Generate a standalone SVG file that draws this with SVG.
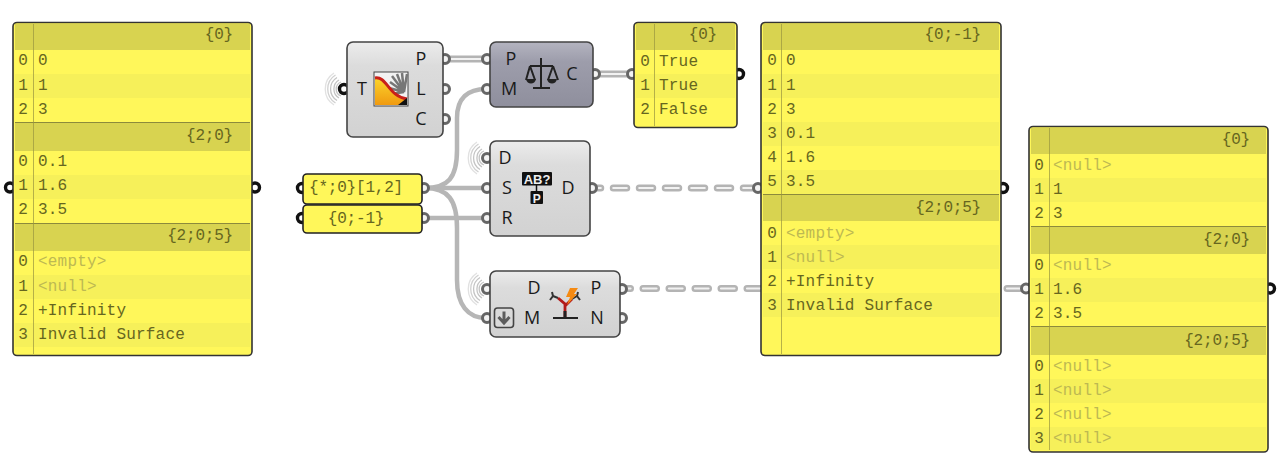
<svg xmlns="http://www.w3.org/2000/svg" width="1280" height="470" viewBox="0 0 1280 470">
<style>
text{font-family:"Liberation Mono","DejaVu Sans Mono",monospace;font-size:16px;fill:#66661f;letter-spacing:.2px}
.i{text-anchor:middle;letter-spacing:0}
.h{text-anchor:end;letter-spacing:-.2px}
.n{fill:#bdb952}
.lb{font-family:"Open Sans","Liberation Sans",sans-serif;font-size:18px;fill:#1a1a1a;text-anchor:middle;letter-spacing:0}
.pn{fill:#fff75a;stroke:#333;stroke-width:1.6}
.hd{fill:#d8d350}
.st{fill:#f6f05a}
.col{stroke:#9a9640;stroke-width:1;opacity:.7}
.sep{stroke:#8c8a3c;stroke-width:1.2}
.nd{stroke:#444;stroke-width:1.6}
.pi{fill:#f4f4f4;stroke:#666;stroke-width:3}
.pb{fill:#fff;stroke:#111;stroke-width:3.400}
.w{fill:none;stroke:#b6b6b6;stroke-width:4.500}
.wd{fill:none;stroke:#b4b4b4;stroke-width:7}
.wi{fill:none;stroke:#f2f2f2;stroke-width:2.200}
.dash{stroke-dasharray:13.500 12.500;stroke-linecap:round}
.r{fill:none;stroke:#c4c4c4;stroke-width:1.300}
</style>
<defs>
<linearGradient id="g" x1="0" y1="0" x2="0" y2="1"><stop offset="0" stop-color="#ececec"/><stop offset=".25" stop-color="#dcdcdc"/><stop offset="1" stop-color="#d2d2d2"/></linearGradient>
<linearGradient id="gd" x1="0" y1="0" x2="0" y2="1"><stop offset="0" stop-color="#b4b4c0"/><stop offset=".3" stop-color="#9d9dab"/><stop offset="1" stop-color="#8f8f9d"/></linearGradient>
<linearGradient id="ic" x1="0" y1="0" x2="0" y2="1"><stop offset="0" stop-color="#fbd52c"/><stop offset="1" stop-color="#f09a10"/></linearGradient>
<g id="rings"><path class="r" d="M-3 -7A7.500 7.500 0 0 0 -3 7"/><path class="r" d="M-5 -9A10.500 10.500 0 0 0 -5 9"/><path class="r" d="M-7 -11.500A13.500 13.500 0 0 0 -7 11.500"/><path class="r" d="M-8.500 -14A16.500 16.500 0 0 0 -8.500 14" opacity=".8"/><path class="r" d="M-10 -16A19 19 0 0 0 -10 16" opacity=".5"/></g>
</defs>

<g id="connectors">
<path class="wd" d="M446 59H486"/><path class="wi" d="M446 59H486"/>
<path class="wd" d="M596 74H630"/><path class="wi" d="M596 74H630"/>
<path class="w" d="M425 188C448 188 457 178 457 150V118C457 98 468 89 486 89"/>
<path class="w" d="M425 188H486"/>
<path class="w" d="M425 188C448 188 457 200 457 228V280C457 305 468 318 486 318"/>
<path class="w" d="M425 218H486"/>
<path class="wd dash" d="M587.250 188H758"/><path class="wi dash" d="M587.250 188H758"/>
<path class="wd dash" d="M617 288.500H1025"/><path class="wi dash" d="M617 288.500H1025"/>
</g>

<g id="panel-1">
<circle class="pb" cx="10" cy="187.500" r="4.500"/><circle class="pb" cx="255" cy="187.500" r="4.500"/>
<rect class="pn" x="13" y="22.500" width="239" height="333" rx="4"/>
<path class="hd" d="M15 24H250V50H15ZM15 123H250V151H15ZM15 224H250V251H15Z"/>
<path class="st" d="M15 74H250V98H15ZM15 175H250V199H15ZM15 275H250V299H15ZM15 323H250V347H15Z"/>
<path class="sep" d="M15 122.500H250M15 223.500H250"/><path class="col" d="M33.500 24V354"/>
<text class="h" x="233" y="39">{0}</text><text class="i" x="23" y="65">0</text><text x="38" y="65">0</text><text class="i" x="23" y="90">1</text><text x="38" y="90">1</text><text class="i" x="23" y="114">2</text><text x="38" y="114">3</text>
<text class="h" x="233" y="140">{2;0}</text><text class="i" x="23" y="166">0</text><text x="38" y="166">0.1</text><text class="i" x="23" y="190">1</text><text x="38" y="190">1.6</text><text class="i" x="23" y="214">2</text><text x="38" y="214">3.5</text>
<text class="h" x="233" y="240">{2;0;5}</text><text class="i" x="23" y="266">0</text><text class="n" x="38" y="266">&lt;empty&gt;</text><text class="i" x="23" y="291">1</text><text class="n" x="38" y="291">&lt;null&gt;</text><text class="i" x="23" y="315">2</text><text x="38" y="315">+Infinity</text><text class="i" x="23" y="339">3</text><text x="38" y="339">Invalid Surface</text>
</g>

<g id="node-tree-stats">
<use href="#rings" x="344" y="89"/>
<circle class="pb" cx="344" cy="89" r="4.500"/><circle class="pi" cx="445" cy="59" r="4.500"/><circle class="pi" cx="445" cy="89" r="4.500"/><circle class="pi" cx="445" cy="119" r="4.500"/>
<rect class="nd" x="347" y="42" width="96" height="95" rx="6" fill="url(#g)"/>
<rect x="374" y="72" width="34" height="34" fill="#f2f2f2" stroke="#444"/>
<path d="M404 92L392 76M404 92L397 74M404 92L402 73M404 92L407 74M404 92L390 82M404 92L389 88M404 92L391 94" stroke="#777" stroke-width="2.500" fill="none"/>
<path d="M375 78C387 76 388 96 407 99V105H375Z" fill="url(#ic)"/>
<path d="M375 78C387 76 388 96 407 99" fill="none" stroke="#c8201a" stroke-width="3"/>
<path d="M398 105L407 98V105Z" fill="#111"/>
<text class="lb" x="362" y="95">T</text><text class="lb" x="421" y="65">P</text><text class="lb" x="421" y="95">L</text><text class="lb" x="421" y="125">C</text>
</g>

<g id="node-balance">
<circle class="pi" cx="487" cy="59" r="4.500"/><circle class="pi" cx="487" cy="89" r="4.500"/><circle class="pi" cx="595" cy="74" r="4.500"/>
<rect class="nd" x="490" y="42" width="103" height="65" rx="6" fill="url(#gd)"/>
<path d="M541 58V87M533 88H550M530 66H553M530 66L526 80M530 66L535 80M553 66L548 80M553 66L558 80" fill="none" stroke="#222" stroke-width="2"/>
<path d="M526 79H536C535 85 527 85 526 79ZM547 79H557C556 85 548 85 547 79Z" fill="#222"/>
<text class="lb" x="511" y="65">P</text><text class="lb" x="509" y="95">M</text><text class="lb" x="572" y="80">C</text>
</g>

<g id="panel-4">
<circle class="pi" cx="632" cy="74" r="4.500"/><circle class="pb" cx="739" cy="74" r="4.500"/>
<rect class="pn" x="634" y="22.500" width="103" height="105" rx="4"/>
<path class="hd" d="M636 24H735V50H636Z"/><path class="st" d="M636 74H735V98H636Z"/><path class="col" d="M654.500 24V126"/>
<text class="h" x="717" y="39">{0}</text><text class="i" x="645" y="66">0</text><text x="659" y="66">True</text><text class="i" x="645" y="90">1</text><text x="659" y="90">True</text><text class="i" x="645" y="114">2</text><text x="659" y="114">False</text>
</g>

<g id="param-path">
<circle class="pb" cx="302" cy="188" r="4.500"/><circle class="pi" cx="424" cy="188" r="4.500"/>
<rect x="303" y="174" width="119" height="30" rx="4" fill="#fff75a" stroke="#222" stroke-width="1.600"/>
<text x="309" y="192" style="letter-spacing:-.2px">{*;0}[1,2]</text>
</g>
<g id="param-relative">
<circle class="pb" cx="302" cy="218" r="4.500"/><circle class="pi" cx="424" cy="218" r="4.500"/>
<rect x="303" y="205" width="119" height="28" rx="4" fill="#fff75a" stroke="#222" stroke-width="1.600"/>
<text class="i" x="356" y="223" style="letter-spacing:-.2px">{0;-1}</text>
</g>

<g id="node-shift">
<use href="#rings" x="487" y="158"/>
<circle class="pi" cx="487" cy="158" r="4.500"/><circle class="pi" cx="487" cy="188" r="4.500"/><circle class="pi" cx="487" cy="218" r="4.500"/><circle class="pi" cx="592" cy="188" r="4.500"/>
<rect class="nd" x="490" y="141" width="100" height="95" rx="6" fill="url(#g)"/>
<rect x="522" y="172" width="30" height="13.500" rx="1" fill="#111"/><rect x="530.500" y="191" width="12.500" height="13" rx="1" fill="#111"/><path d="M536.500 185V191" stroke="#111" stroke-width="1.500"/>
<text x="537" y="183.500" style="font:bold 13px 'Liberation Sans',sans-serif;fill:#eee;text-anchor:middle;letter-spacing:0">AB?</text>
<text x="536.800" y="202.500" style="font:bold 12px 'Liberation Sans',sans-serif;fill:#eee;text-anchor:middle;letter-spacing:0">P</text>
<text class="lb" x="505" y="164">D</text><text class="lb" x="507" y="194">S</text><text class="lb" x="507" y="224">R</text><text class="lb" x="568" y="194">D</text>
</g>

<g id="node-prune">
<use href="#rings" x="487" y="289"/>
<circle class="pi" cx="487" cy="289" r="4.500"/><circle class="pi" cx="487" cy="318" r="4.500"/><circle class="pi" cx="622" cy="289" r="4.500"/><circle class="pi" cx="622" cy="318" r="4.500"/>
<rect class="nd" x="490" y="271" width="130" height="66" rx="6" fill="url(#g)"/>
<rect x="494.500" y="308" width="19" height="19.500" rx="3" fill="#dadada" stroke="#444" stroke-width="1.600"/>
<path d="M504 311.500V323M498.500 317L504 323L509.500 317" fill="none" stroke="#5c5c5c" stroke-width="3"/>
<path d="M565 317V304L558 298M565 306L572 299" fill="none" stroke="#b21a1a" stroke-width="2.800"/>
<path d="M558 298L553 296M553 296L552 292M553 296L550 300M572 299L577 296M577 296L578 292M577 296L580 300" fill="none" stroke="#333" stroke-width="2"/>
<path d="M553 318H578" stroke="#222" stroke-width="2"/><path d="M565 311V318" stroke="#222" stroke-width="3"/>
<path d="M570 288L578 288L574 294L577 294L567 305L570 297L566 297Z" fill="#f58a12"/>
<text class="lb" x="534" y="294">D</text><text class="lb" x="532" y="324">M</text><text class="lb" x="596" y="294">P</text><text class="lb" x="597" y="324">N</text>
</g>

<g id="panel-2">
<circle class="pi" cx="758" cy="188" r="4.500"/><circle class="pb" cx="1003" cy="188" r="4.500"/>
<rect class="pn" x="761" y="22.500" width="240" height="333" rx="4"/>
<path class="hd" d="M763 24H999V50H763ZM763 195H999V221H763Z"/>
<path class="st" d="M763 74H999V98H763ZM763 122H999V146H763ZM763 170H999V194H763ZM763 245H999V269H763ZM763 293H999V317H763Z"/>
<path class="sep" d="M763 194.500H999"/><path class="col" d="M781.500 24V354"/>
<text class="h" x="981" y="39">{0;-1}</text>
<text class="i" x="772" y="65">0</text><text x="786" y="65">0</text><text class="i" x="772" y="90">1</text><text x="786" y="90">1</text><text class="i" x="772" y="114">2</text><text x="786" y="114">3</text><text class="i" x="772" y="138">3</text><text x="786" y="138">0.1</text><text class="i" x="772" y="162">4</text><text x="786" y="162">1.6</text><text class="i" x="772" y="186">5</text><text x="786" y="186">3.5</text>
<text class="h" x="981" y="212">{2;0;5}</text>
<text class="i" x="772" y="238">0</text><text class="n" x="786" y="238">&lt;empty&gt;</text><text class="i" x="772" y="262">1</text><text class="n" x="786" y="262">&lt;null&gt;</text><text class="i" x="772" y="286">2</text><text x="786" y="286">+Infinity</text><text class="i" x="772" y="310">3</text><text x="786" y="310">Invalid Surface</text>
</g>

<g id="panel-3">
<circle class="pi" cx="1026" cy="288.500" r="4.500"/><circle class="pb" cx="1270" cy="288.500" r="4.500"/>
<rect class="pn" x="1029" y="126.500" width="239" height="325.500" rx="4"/>
<path class="hd" d="M1031 128H1266V154H1031ZM1031 227H1266V254H1031ZM1031 327H1266V355H1031Z"/>
<path class="st" d="M1031 178H1266V202H1031ZM1031 278H1266V302H1031ZM1031 379H1266V403H1031ZM1031 427H1266V450H1031Z"/>
<path class="sep" d="M1031 226.500H1266M1031 326.500H1266"/><path class="col" d="M1049.500 128V450"/>
<text class="h" x="1250" y="144">{0}</text>
<text class="i" x="1039" y="170">0</text><text class="n" x="1053" y="170">&lt;null&gt;</text><text class="i" x="1039" y="194">1</text><text x="1053" y="194">1</text><text class="i" x="1039" y="218">2</text><text x="1053" y="218">3</text>
<text class="h" x="1250" y="244">{2;0}</text>
<text class="i" x="1039" y="270">0</text><text class="n" x="1053" y="270">&lt;null&gt;</text><text class="i" x="1039" y="294">1</text><text x="1053" y="294">1.6</text><text class="i" x="1039" y="318">2</text><text x="1053" y="318">3.5</text>
<text class="h" x="1250" y="345">{2;0;5}</text>
<text class="i" x="1039" y="371">0</text><text class="n" x="1053" y="371">&lt;null&gt;</text><text class="i" x="1039" y="395">1</text><text class="n" x="1053" y="395">&lt;null&gt;</text><text class="i" x="1039" y="419">2</text><text class="n" x="1053" y="419">&lt;null&gt;</text><text class="i" x="1039" y="443">3</text><text class="n" x="1053" y="443">&lt;null&gt;</text>
</g>
</svg>
